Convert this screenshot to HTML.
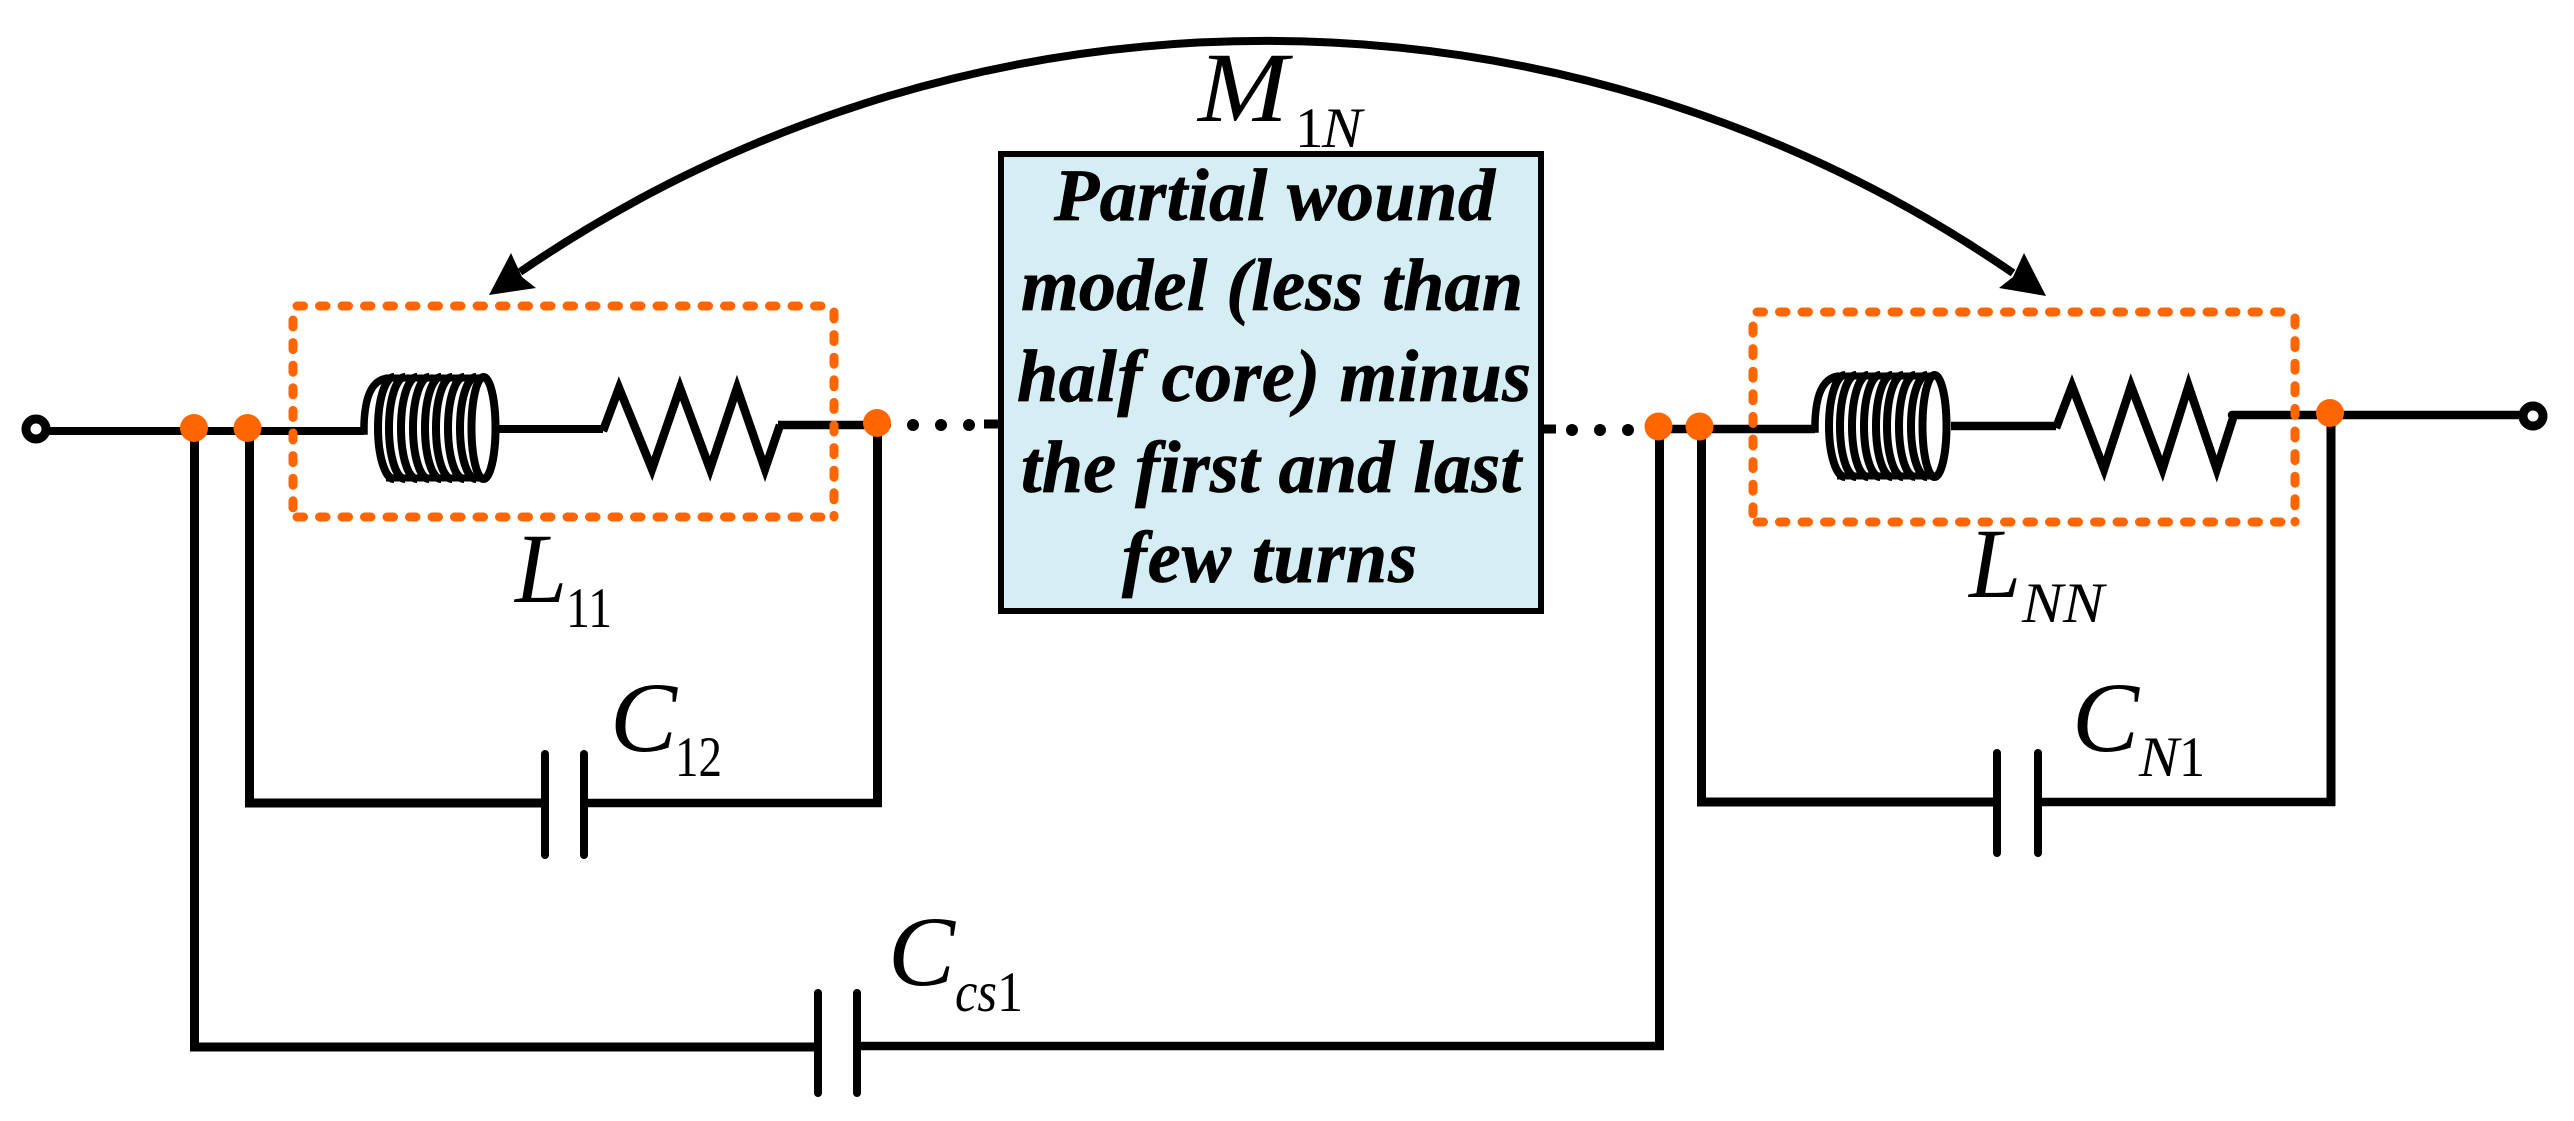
<!DOCTYPE html>
<html>
<head>
<meta charset="utf-8">
<style>
html,body{margin:0;padding:0;background:#fff;width:2574px;height:1121px;overflow:hidden}
svg{display:block}
text{font-family:"Liberation Serif",serif;fill:#000}
.i{font-style:italic}
.b{font-style:italic;font-weight:bold;font-size:74px;stroke:#000;stroke-width:.8px}
.m{font-size:100px}
.s{font-size:57px}
</style>
</head>
<body>
<svg width="2574" height="1121" viewBox="0 0 2574 1121" xmlns="http://www.w3.org/2000/svg">
<rect width="2574" height="1121" fill="#fff"/>
<defs>
<g id="coil" fill="none" stroke="#000" stroke-width="8">
<path d="M340,431H364V424C365,400 370,380 388,378" stroke-width="7.500"/>
<path d="M394,377A16,51 0 0 0 394,479"/>
<path d="M405,377A16,51 0 0 0 405,479"/>
<path d="M417,377A16,51 0 0 0 417,479"/>
<path d="M429,377A16,51 0 0 0 429,479"/>
<path d="M441,377A16,51 0 0 0 441,479"/>
<path d="M452,377A16,51 0 0 0 452,479"/>
<path d="M464,377A16,51 0 0 0 464,479"/>
<path d="M476,377A16,51 0 0 0 476,479"/>
<path d="M386,378H484M386,478H484" stroke-width="7"/>
<ellipse cx="483.500" cy="428" rx="12" ry="51"/>
</g>
</defs>

<!-- Arc and arrowheads -->
<path d="M520,272A1319,1319 0 0 1 2013,273" fill="none" stroke="#000" stroke-width="8"/>
<polygon points="489,295 511,253 522,277 536,288" fill="#000"/>
<polygon points="2046,296 2024,253 2013,277 1999,288" fill="#000"/>

<!-- Left wiring -->
<g fill="none" stroke="#000">
<path d="M46,431H364" stroke-width="8"/>
<path d="M499,429H603" stroke-width="8"/>
<polyline points="603,431 619,388 652,469 680,388 710,469 737,388 765,469 780,425" stroke-width="8.500" stroke-linejoin="miter"/>
<path d="M778,425H880" stroke-width="8.500"/>
<path d="M885,425H975" stroke-width="12" stroke-dasharray="0 28" stroke-linecap="round"/>
<path d="M984,424H1001" stroke-width="9"/>
<path d="M194.500,430V1047" stroke-width="9"/>
<path d="M190,1047H818" stroke-width="9"/>
<path d="M857,1046H1664" stroke-width="8.500"/>
<path d="M249.500,430V803" stroke-width="9"/>
<path d="M245,803H545" stroke-width="9"/>
<path d="M584,803H882" stroke-width="8.500"/>
<path d="M877.500,425V807" stroke-width="9"/>
<path d="M545,754V855M584,754V855" stroke-width="8" stroke-linecap="round"/>
<path d="M818,993V1093M857,993V1093" stroke-width="8" stroke-linecap="round"/>
<circle cx="36" cy="429" r="10" stroke-width="9" fill="#fff"/>
</g>
<use href="#coil"/>

<!-- Right wiring -->
<g fill="none" stroke="#000">
<path d="M1665,429H1815" stroke-width="8.500"/>
<path d="M1951,426H2056" stroke-width="8.500"/>
<polyline points="2056,428 2072,386 2104,469 2131,386 2162.500,469 2188.600,386 2216.700,469 2234,415" stroke-width="8.500"/>
<path d="M2232,415H2524" stroke-width="8.500" stroke-linecap="round"/>
<path d="M1544,429H1556" stroke-width="9"/>
<path d="M1572,430H1650" stroke-width="12" stroke-dasharray="0 28" stroke-linecap="round"/>
<path d="M1659.500,430V1050" stroke-width="9"/>
<path d="M1701.500,430V802" stroke-width="9"/>
<path d="M1697,802H1997" stroke-width="9"/>
<path d="M2038,802H2335" stroke-width="8.500"/>
<path d="M2331,413V806" stroke-width="9"/>
<path d="M1997,753V853M2038,753V853" stroke-width="8" stroke-linecap="round"/>
<circle cx="2533" cy="416" r="10" stroke-width="9" fill="#fff"/>
</g>
<use href="#coil" transform="translate(1451,-2)"/>

<!-- Centre box -->
<rect x="1001" y="154" width="540" height="457" fill="#d5eef4" stroke="#000" stroke-width="6"/>
<text class="b" x="1054" y="220" textLength="441" lengthAdjust="spacing">Partial wound</text>
<text class="b" x="1021" y="310" textLength="502" lengthAdjust="spacing">model (less than</text>
<text class="b" x="1017" y="401" textLength="514" lengthAdjust="spacing">half core) minus</text>
<text class="b" x="1021" y="492" textLength="500" lengthAdjust="spacing">the first and last</text>
<text class="b" x="1122" y="582" textLength="295" lengthAdjust="spacing">few turns</text>

<!-- Orange dashed boxes -->
<g fill="none" stroke="#ff6600" stroke-width="9" stroke-linecap="round">
<path d="M297,306H830" stroke-dasharray="6.500 16"/>
<path d="M297,517H830" stroke-dasharray="6.500 16"/>
<path d="M293,314V510" stroke-dasharray="7 15.600" stroke-dashoffset="-6"/>
<path d="M834,306V517" stroke-dasharray="7 15.600" stroke-dashoffset="-6"/>
<path d="M1757,312H2290" stroke-dasharray="6.500 16"/>
<path d="M1757,522H2290" stroke-dasharray="6.500 16"/>
<path d="M1753,320V515" stroke-dasharray="7 15.600" stroke-dashoffset="-6"/>
<path d="M2295,312V522" stroke-dasharray="7 15.600" stroke-dashoffset="-6"/>
</g>
<g fill="#ff6600">
<circle cx="194" cy="428" r="14"/>
<circle cx="247.500" cy="428" r="14"/>
<circle cx="877" cy="423" r="14"/>
<circle cx="1658.500" cy="426.500" r="14"/>
<circle cx="1699.500" cy="426.500" r="14"/>
<circle cx="2330" cy="413" r="14"/>
</g>

<!-- Labels -->
<text class="m i" x="1198" y="121" textLength="90" lengthAdjust="spacingAndGlyphs">M</text>
<text class="s" x="1295" y="147" textLength="28">1</text>
<text class="s i" x="1322" y="147" textLength="40" lengthAdjust="spacingAndGlyphs">N</text>

<text class="m i" x="515" y="602" textLength="52" lengthAdjust="spacingAndGlyphs">L</text>
<text class="s" x="566" y="627" textLength="46" lengthAdjust="spacingAndGlyphs">11</text>

<text class="m i" x="1969" y="597" textLength="52" lengthAdjust="spacingAndGlyphs">L</text>
<text class="s i" x="2022" y="622" textLength="82" lengthAdjust="spacingAndGlyphs">NN</text>

<text class="m i" x="610" y="751" textLength="67" lengthAdjust="spacingAndGlyphs">C</text>
<text class="s" x="675" y="776" textLength="47" lengthAdjust="spacingAndGlyphs">12</text>

<text class="m i" x="888" y="985" textLength="67" lengthAdjust="spacingAndGlyphs">C</text>
<text class="s i" x="955" y="1011" textLength="42" lengthAdjust="spacingAndGlyphs">cs</text>
<text class="s" x="997" y="1011" textLength="26" lengthAdjust="spacingAndGlyphs">1</text>

<text class="m i" x="2072" y="751" textLength="67" lengthAdjust="spacingAndGlyphs">C</text>
<text class="s i" x="2139" y="776" textLength="40" lengthAdjust="spacingAndGlyphs">N</text>
<text class="s" x="2179" y="776" textLength="26" lengthAdjust="spacingAndGlyphs">1</text>
</svg>
</body>
</html>
